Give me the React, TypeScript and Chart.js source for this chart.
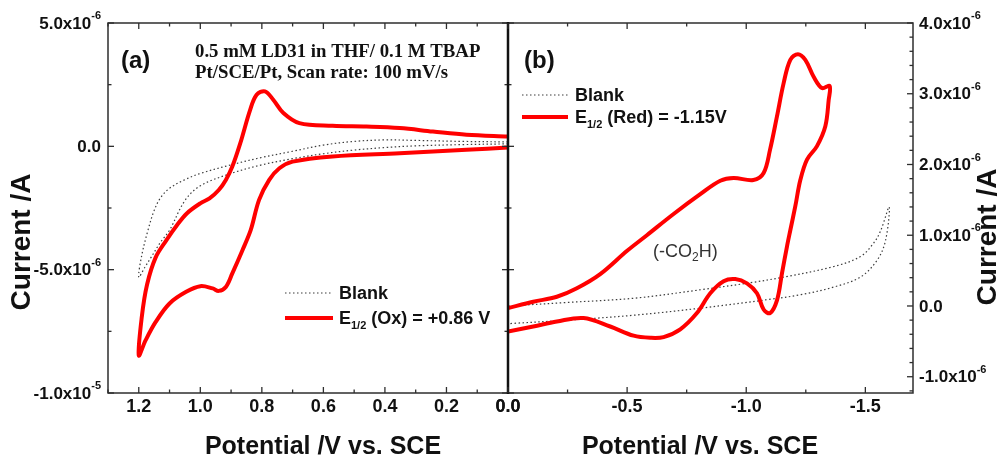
import React, { useEffect, useRef } from "react";
import { Chart, registerables } from "chart.js";

Chart.register(...registerables);

// ---------- Panel (a): oxidation scan (potential in V, current in µA) ----------
const aRedPotential = [
  0.0, 0.135, 0.244, 0.352, 0.46, 0.57, 0.678, 0.73, 0.763, 0.79, 0.817, 0.838, 0.87, 0.896, 0.917, 0.94, 0.97, 1.0,
  1.044, 1.076, 1.11, 1.145, 1.173, 1.19, 1.2,
  1.178, 1.145, 1.1, 1.046, 1.0, 0.96, 0.94, 0.917, 0.896, 0.863, 0.836, 0.809, 0.776, 0.743, 0.7, 0.57, 0.352,
  0.135, 0.0,
];
const aRedCurrent = [
  0.4, 0.47, 0.6, 0.74, 0.8, 0.83, 0.94, 1.35, 1.89, 2.23, 2.09, 1.48, 0.13, -0.82, -1.36, -1.77, -2.11, -2.31,
  -2.72, -3.2, -3.8, -4.5, -5.6, -6.9, -8.48,
  -7.87, -7.12, -6.37, -5.9, -5.67, -5.76, -5.86, -5.7, -5.15, -4.21, -3.39, -2.17, -1.36, -0.89, -0.62, -0.41,
  -0.28, -0.14, -0.05,
];
const aBlankPotential = [
  0.0, 0.15, 0.3, 0.4, 0.5, 0.6, 0.7, 0.8, 0.9, 1.0, 1.05, 1.1, 1.13, 1.15, 1.17, 1.19, 1.2,
  1.18, 1.16, 1.13, 1.1, 1.05, 1.0, 0.9, 0.8, 0.7, 0.6, 0.5, 0.4, 0.3, 0.15, 0.0,
];
const aBlankCurrent = [
  0.18, 0.2, 0.24, 0.26, 0.2, 0.05, -0.2, -0.45, -0.75, -1.1, -1.35, -1.7, -2.1, -2.6, -3.4, -4.4, -5.3,
  -4.9, -4.5, -3.9, -3.4, -2.2, -1.6, -1.1, -0.75, -0.5, -0.3, -0.15, -0.05, 0.02, 0.07, 0.1,
];

// ---------- Panel (b): reduction scan ----------
const bRedPotential = [
  0.0, -0.106, -0.205, -0.289, -0.387, -0.5, -0.583, -0.695, -0.807, -0.891, -0.947, -1.03, -1.073, -1.1, -1.129,
  -1.157, -1.185, -1.217, -1.248, -1.283, -1.318, -1.35,
  -1.346, -1.332, -1.297, -1.255, -1.227, -1.206, -1.185, -1.171, -1.15, -1.129, -1.1, -1.073, -1.045, -1.003,
  -0.954, -0.905, -0.849, -0.793, -0.723, -0.653, -0.597, -0.527, -0.429, -0.317, -0.205, -0.106, 0.0,
];
const bRedCurrent = [
  -0.03, 0.06, 0.13, 0.25, 0.45, 0.78, 1.0, 1.3, 1.58, 1.77, 1.81, 1.78, 1.88, 2.21, 2.68,
  3.15, 3.48, 3.56, 3.48, 3.24, 3.08, 3.11,
  2.91, 2.54, 2.26, 2.07, 1.78, 1.41, 1.07, 0.84, 0.46, 0.08, -0.1, -0.05, 0.18, 0.32,
  0.38, 0.35, 0.18, -0.1, -0.33, -0.44, -0.45, -0.42, -0.29, -0.17, -0.22, -0.29, -0.36,
];
const bBlankPotential = [
  0.0, -0.25, -0.53, -0.81, -1.02, -1.16, -1.37, -1.48, -1.535, -1.565, -1.6,
  -1.585, -1.55, -1.48, -1.37, -1.23, -1.09, -0.81, -0.53, -0.25, 0.0,
];
const bBlankCurrent = [
  0.0, 0.05, 0.11, 0.23, 0.33, 0.41, 0.56, 0.7, 0.89, 1.07, 1.4,
  0.93, 0.65, 0.41, 0.27, 0.16, 0.09, -0.03, -0.13, -0.2, -0.25,
];

// ---------- Axes: [min, max] and [minor step, major every n] ----------
const aPotentialRange = [0, 1.3];
const aCurrentRange = [-10, 5];
const bPotentialRange = [-1.7, 0];
const bCurrentRange = [-1.23, 4];
const aPotentialTicks = [0.1, 2];
const aCurrentTicks = [2.5, 2];
const bPotentialTicks = [0.25, 2];
const bCurrentTicks = [0.2, 5];

// ---------- Texts ----------
const panelLabels = ["(a)", "(b)"];
const conditionLines = ["0.5 mM LD31 in THF/ 0.1 M TBAP", "Pt/SCE/Pt, Scan rate: 100 mV/s"];
const blankLabel = "Blank";
const redLabelA = " (Ox) = +0.86 V";
const redLabelB = " (Red) = -1.15V";
const xTitle = "Potential /V vs. SCE";
const yTitle = "Current /A";

const SANS = '"Liberation Sans", Arial, Helvetica, sans-serif';
const SERIF = '"Liberation Serif", "Times New Roman", serif';
const RED = "#ff0000";
const AXIS = "#2e2e2e";
const INK = "#111111";
const DOT = "#3c3c3c";

type Part = { t: string; font: string; dy: number };

function drawParts(ctx: CanvasRenderingContext2D, parts: Part[], x: number, y: number, align: "left" | "right" | "center") {
  let w = 0;
  for (const p of parts) {
    ctx.font = p.font;
    w += ctx.measureText(p.t).width;
  }
  let cx = align === "left" ? x : align === "right" ? x - w : x - w / 2;
  ctx.textAlign = "left";
  ctx.textBaseline = "middle";
  for (const p of parts) {
    ctx.font = p.font;
    ctx.fillText(p.t, cx, y + p.dy);
    cx += ctx.measureText(p.t).width;
  }
}

function line(ctx: CanvasRenderingContext2D, x1: number, y1: number, x2: number, y2: number) {
  ctx.beginPath();
  ctx.moveTo(x1, y1);
  ctx.lineTo(x2, y2);
  ctx.stroke();
}

function tickList(range: number[], spec: number[]) {
  const [step, every] = spec;
  const out: { v: number; major: boolean }[] = [];
  const k0 = Math.ceil(range[0] / step - 1e-6);
  const k1 = Math.floor(range[1] / step + 1e-6);
  for (let k = k0; k <= k1; k++) {
    out.push({ v: k * step, major: ((k % every) + every) % every === 0 });
  }
  return out;
}

function sciParts(microA: number): Part[] {
  const main = `bold 17px ${SANS}`;
  const sup = `bold 11px ${SANS}`;
  if (Math.abs(microA) < 1e-9) return [{ t: "0.0", font: main, dy: 0 }];
  const a = microA * 1e-6;
  const e = Math.floor(Math.log10(Math.abs(a)) + 1e-9);
  const m = a / Math.pow(10, e);
  return [
    { t: m.toFixed(1) + "x10", font: main, dy: 0 },
    { t: String(e), font: sup, dy: -8 },
  ];
}

function fmtPotential(v: number) {
  return Math.abs(v) < 1e-9 ? "0.0" : v.toFixed(1);
}

function panelPlugin(panel: "a" | "b") {
  return {
    id: "decor" + panel,
    afterDraw(chart: any) {
      const ctx: CanvasRenderingContext2D = chart.ctx;
      const ca = chart.chartArea;
      const xs = chart.scales.x;
      const ys = chart.scales.y;
      const isA = panel === "a";
      ctx.save();

      // frame
      ctx.strokeStyle = AXIS;
      ctx.lineWidth = 1.5;
      ctx.strokeRect(ca.left, ca.top, ca.right - ca.left, ca.bottom - ca.top);
      if (!isA) {
        ctx.strokeStyle = INK;
        ctx.lineWidth = 2.5;
        line(ctx, ca.left, ca.top - 1, ca.left, ca.bottom + 1);
      }

      // x ticks + labels
      ctx.strokeStyle = AXIS;
      ctx.lineWidth = 1.3;
      ctx.fillStyle = INK;
      for (const t of tickList(isA ? aPotentialRange : bPotentialRange, isA ? aPotentialTicks : bPotentialTicks)) {
        const px = xs.getPixelForValue(t.v);
        const len = t.major ? 6 : 3.5;
        line(ctx, px, ca.bottom, px, ca.bottom - len);
        line(ctx, px, ca.top, px, ca.top + len);
        if (t.major) {
          drawParts(ctx, [{ t: fmtPotential(t.v), font: `bold 18px ${SANS}`, dy: 0 }], px, ca.bottom + 14, "center");
        }
      }

      // y ticks + labels
      for (const t of tickList(isA ? aCurrentRange : bCurrentRange, isA ? aCurrentTicks : bCurrentTicks)) {
        const py = ys.getPixelForValue(t.v);
        const len = t.major ? 6 : 3.5;
        if (isA) {
          line(ctx, ca.left, py, ca.left + len, py);
          line(ctx, ca.right - len, py, ca.right + len, py);
          if (t.major) drawParts(ctx, sciParts(t.v), ca.left - 7, py + 1, "right");
        } else {
          line(ctx, ca.right - len, py, ca.right, py);
          if (t.major) drawParts(ctx, sciParts(t.v), ca.right + 6, py + 1, "left");
        }
      }

      // axis titles
      ctx.fillStyle = INK;
      drawParts(ctx, [{ t: xTitle, font: `bold 25px ${SANS}`, dy: 0 }], isA ? 323 : 700, 447, "center");
      ctx.save();
      if (isA) ctx.translate(22, 242);
      else ctx.translate(988, 237);
      ctx.rotate(-Math.PI / 2);
      drawParts(ctx, [{ t: yTitle, font: `bold 28px ${SANS}`, dy: 0 }], 0, 0, "center");
      ctx.restore();

      // panel label
      drawParts(ctx, [{ t: panelLabels[isA ? 0 : 1], font: `bold 24px ${SANS}`, dy: 0 }], isA ? 121 : 524, 61, "left");

      const sub = `bold 11px ${SANS}`;
      const leg = `bold 18px ${SANS}`;
      if (isA) {
        ctx.fillStyle = INK;
        drawParts(ctx, [{ t: conditionLines[0], font: `bold 18.8px ${SERIF}`, dy: 0 }], 195, 52, "left");
        drawParts(ctx, [{ t: conditionLines[1], font: `bold 18.8px ${SERIF}`, dy: 0 }], 195, 73, "left");
      } else {
        ctx.fillStyle = "#333333";
        drawParts(
          ctx,
          [
            { t: "(-CO", font: `18px ${SANS}`, dy: 0 },
            { t: "2", font: `12px ${SANS}`, dy: 6 },
            { t: "H)", font: `18px ${SANS}`, dy: 0 },
          ],
          653,
          252,
          "left"
        );
      }

      // legend
      const lx0 = isA ? 285 : 522;
      const lx1 = isA ? 333 : 568;
      const ly1 = isA ? 293 : 95;
      const ly2 = isA ? 318 : 117;
      const tx = isA ? 339 : 575;
      ctx.strokeStyle = DOT;
      ctx.lineWidth = 1.2;
      ctx.setLineDash([1.5, 2.5]);
      line(ctx, lx0, ly1, lx1, ly1);
      ctx.setLineDash([]);
      ctx.strokeStyle = RED;
      ctx.lineWidth = 4;
      line(ctx, lx0, ly2, lx1, ly2);
      ctx.fillStyle = INK;
      drawParts(ctx, [{ t: blankLabel, font: leg, dy: 0 }], tx, ly1 + 1, "left");
      drawParts(
        ctx,
        [
          { t: "E", font: leg, dy: 0 },
          { t: "1/2", font: sub, dy: 7 },
          { t: isA ? redLabelA : redLabelB, font: leg, dy: 0 },
        ],
        tx,
        ly2 + 1,
        "left"
      );

      ctx.restore();
    },
  };
}

function xy(xv: number[], yv: number[]) {
  return xv.map((x, i) => ({ x, y: yv[i] }));
}

function makeConfig(panel: "a" | "b"): any {
  const isA = panel === "a";
  const pr = isA ? aPotentialRange : bPotentialRange;
  const cr = isA ? aCurrentRange : bCurrentRange;
  return {
    type: "scatter",
    data: {
      datasets: [
        {
          label: "E1/2",
          data: xy(isA ? aRedPotential : bRedPotential, isA ? aRedCurrent : bRedCurrent),
          showLine: true,
          borderColor: RED,
          backgroundColor: RED,
          borderWidth: 4,
          pointRadius: 0,
          tension: 0.35,
          borderJoinStyle: "round",
          borderCapStyle: "round",
          fill: false,
        },
        {
          label: blankLabel,
          data: xy(isA ? aBlankPotential : bBlankPotential, isA ? aBlankCurrent : bBlankCurrent),
          showLine: true,
          borderColor: DOT,
          backgroundColor: DOT,
          borderWidth: 1.2,
          borderDash: [1.5, 2.5],
          pointRadius: 0,
          tension: 0.35,
          fill: false,
        },
      ],
    },
    options: {
      responsive: false,
      animation: false,
      devicePixelRatio: 1,
      events: [],
      layout: {
        padding: isA ? { left: 0, right: 493, top: 23, bottom: 0 } : { left: 508, right: 0, top: 23, bottom: 0 },
      },
      plugins: { legend: { display: false }, tooltip: { enabled: false }, title: { display: false } },
      scales: {
        x: {
          type: "linear",
          min: pr[0],
          max: pr[1],
          reverse: true,
          ticks: { display: false },
          grid: { display: false },
          border: { display: false },
          afterFit: (s: any) => {
            s.height = 66;
          },
        },
        y: {
          type: "linear",
          position: isA ? "left" : "right",
          min: cr[0],
          max: cr[1],
          ticks: { display: false },
          grid: { display: false },
          border: { display: false },
          afterFit: (s: any) => {
            s.width = isA ? 108 : 88;
          },
        },
      },
    },
    plugins: [panelPlugin(panel)],
  };
}

export default function App() {
  const leftRef = useRef<HTMLCanvasElement>(null);
  const rightRef = useRef<HTMLCanvasElement>(null);

  useEffect(() => {
    const charts = [new Chart(leftRef.current as HTMLCanvasElement, makeConfig("a")), new Chart(rightRef.current as HTMLCanvasElement, makeConfig("b"))];
    return () => charts.forEach((c) => c.destroy());
  }, []);

  const cs: React.CSSProperties = { position: "absolute", left: 0, top: 0, width: 1001, height: 459 };
  return (
    <div style={{ position: "fixed", left: 0, top: 0, width: 1001, height: 459, background: "#ffffff", overflow: "hidden" }}>
      <canvas ref={leftRef} width={1001} height={459} style={cs} />
      <canvas ref={rightRef} width={1001} height={459} style={cs} />
    </div>
  );
}
